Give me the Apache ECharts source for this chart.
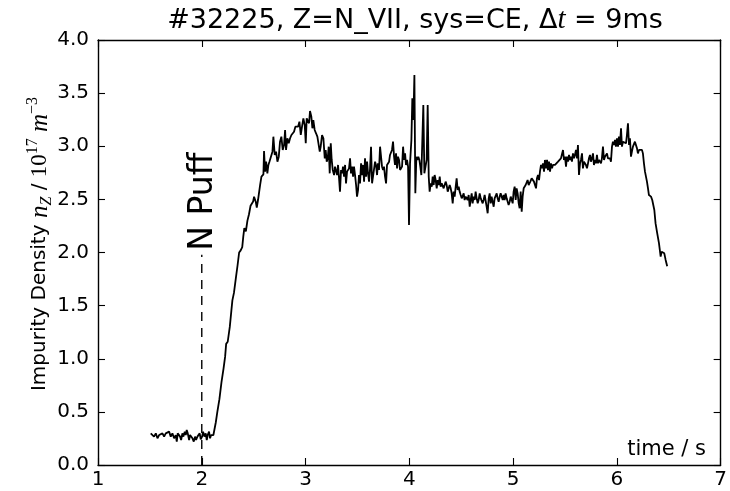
<!DOCTYPE html>
<html>
<head>
<meta charset="utf-8">
<script src="https://cdn.jsdelivr.net/npm/echarts@6/dist/echarts.min.js"></script>
<style>
  html, body { margin: 0; padding: 0; background: #fff; }
  #chart { width: 730px; height: 491px; }
</style>
</head>
<body>
<div id="chart"></div>
<script>
// Impurity density n_Z (1e17 m^-3) versus time (s), shot #32225, N VII, CE system.
// Each segment is a list of [time, density] samples.
const baseline = [
  [1.508,0.298],[1.524,0.282],[1.540,0.267],[1.557,0.298],[1.573,0.251],[1.589,0.282],[1.605,0.267],[1.621,0.298],
  [1.637,0.267],[1.653,0.298],[1.669,0.282],[1.685,0.314],[1.701,0.267],[1.717,0.298],[1.733,0.251],[1.749,0.282],
  [1.759,0.220],[1.768,0.298],[1.781,0.314],[1.791,0.267],[1.801,0.235],[1.813,0.298],[1.823,0.267],[1.836,0.314],
  [1.846,0.282],[1.855,0.330],[1.865,0.298],[1.878,0.235],[1.887,0.282],[1.897,0.298],[1.910,0.251],[1.923,0.220],
  [1.935,0.267],[1.945,0.235],[1.958,0.267],[1.971,0.251],[1.980,0.298],[1.990,0.242],[2.003,0.267],[2.013,0.314],
  [2.025,0.267],[2.038,0.298],[2.048,0.235],[2.057,0.282],[2.070,0.314],[2.080,0.251],[2.090,0.282],[2.102,0.298],
  [2.112,0.282],[2.122,0.300]
];

const rise = [
  [2.135,0.40],[2.150,0.50],[2.170,0.62],[2.190,0.78],[2.210,0.91],[2.225,1.02],[2.235,1.14],[2.250,1.16],
  [2.270,1.30],[2.285,1.45],[2.295,1.55],[2.310,1.62],[2.330,1.77],[2.345,1.88],[2.360,2.00],[2.375,2.02],
  [2.390,2.05],[2.400,2.15],[2.410,2.23],[2.425,2.20],[2.440,2.30],[2.455,2.36],[2.470,2.44],[2.485,2.45],
  [2.495,2.48]
];

const plateau = [
  [2.504,2.525],[2.520,2.478],[2.530,2.422],[2.542,2.494],[2.562,2.635],[2.575,2.714],[2.594,2.736],[2.600,2.955],
  [2.610,2.761],[2.620,2.855],[2.632,2.745],[2.642,2.824],[2.652,2.855],[2.664,2.871],[2.681,2.949],[2.690,3.090],
  [2.703,2.918],[2.716,2.949],[2.729,2.855],[2.742,2.902],[2.754,3.043],[2.767,3.090],[2.780,2.965],[2.793,3.012],
  [2.803,3.153],[2.812,2.965],[2.825,3.075],[2.838,3.028],[2.851,3.075],[2.864,3.106],[2.876,3.090],[2.889,3.137],
  [2.902,3.184],[2.915,3.169],[2.928,3.184],[2.941,3.231],[2.954,3.106],[2.966,3.184],[2.979,3.263],[2.992,3.200],
  [3.002,3.028],[3.011,3.263],[3.024,3.247],[3.034,3.216],[3.043,3.332],[3.056,3.278],[3.066,3.169],[3.075,3.247],
  [3.088,3.153],[3.101,3.122],[3.114,3.090],[3.127,3.075],[3.137,2.949],[3.146,2.996],[3.159,3.106],[3.172,3.075],
  [3.185,2.886],[3.194,2.965],[3.204,2.855],[3.214,2.886],[3.223,2.996],[3.233,2.745],[3.243,3.028],[3.252,2.871],
  [3.262,2.777],[3.275,2.729],[3.284,2.808],[3.294,2.792],[3.304,2.729],[3.313,2.824],[3.323,2.698],[3.332,2.573],
  [3.342,2.777],[3.352,2.745],[3.361,2.808],[3.371,2.714],[3.381,2.824],[3.390,2.651],[3.400,2.761],[3.410,2.745],
  [3.419,2.792],[3.429,2.886],[3.438,2.745],[3.448,2.808],[3.458,2.714],[3.467,2.808],[3.477,2.729],[3.487,2.635],
  [3.496,2.525],[3.506,2.588],[3.515,2.729],[3.525,2.651],[3.535,2.839],[3.544,2.729],[3.554,2.824],[3.564,2.667],
  [3.573,2.886],[3.583,2.714],[3.593,2.855],[3.602,2.745],[3.612,2.667],[3.621,2.777],[3.631,2.996],[3.641,2.651],
  [3.650,2.714],[3.660,2.729],[3.670,2.855],[3.679,2.824],[3.689,2.729],[3.698,2.839],[3.708,2.777],[3.718,2.996],
  [3.727,2.980],[3.737,2.808],[3.747,2.777],[3.756,2.808],[3.766,2.714],[3.776,2.651],[3.785,2.824],[3.795,2.824],
  [3.805,2.855],[3.814,2.918],[3.824,2.902],[3.833,2.965],[3.843,3.043],[3.853,2.902],[3.862,2.824],[3.872,2.933],
  [3.882,2.792],[3.891,2.902],[3.901,2.871],[3.911,2.777],[3.920,2.792],[3.930,2.808],[3.940,2.996],[3.949,2.871],
  [3.959,2.933],[3.968,2.824],[3.978,2.871],[3.988,2.808],[3.997,2.259]
];

const spikes = [
  [4.007,2.839],[4.020,3.059],[4.029,3.451],[4.039,3.247],[4.049,3.671],[4.058,2.557],[4.068,2.902],[4.077,2.871],
  [4.087,2.902],[4.097,2.871],[4.106,2.808],[4.116,2.729],[4.126,2.745],[4.135,3.388],[4.145,2.745],[4.154,2.729],
  [4.167,2.871],[4.177,3.388],[4.187,2.714]
];

const trough = [
  [4.196,2.573],[4.206,2.651],[4.216,2.620],[4.225,2.714],[4.235,2.635],[4.244,2.729],[4.254,2.682],[4.264,2.604],
  [4.273,2.682],[4.283,2.635],[4.293,2.714],[4.302,2.620],[4.312,2.651],[4.322,2.635],[4.331,2.604],[4.341,2.620],
  [4.350,2.667],[4.360,2.635],[4.370,2.573],[4.379,2.588],[4.389,2.635],[4.399,2.604],[4.408,2.557],[4.418,2.463],
  [4.427,2.573],[4.437,2.526],[4.447,2.620],[4.456,2.698],[4.466,2.588],[4.476,2.620],[4.485,2.573],[4.495,2.541],
  [4.505,2.510],[4.514,2.526],[4.524,2.557],[4.533,2.494],[4.543,2.526],[4.553,2.510],[4.562,2.494],[4.572,2.541],
  [4.582,2.431],[4.591,2.494],[4.601,2.557],[4.610,2.463],[4.620,2.526],[4.630,2.494],[4.639,2.573],[4.649,2.510],
  [4.659,2.463],[4.668,2.494],[4.678,2.557],[4.688,2.510],[4.697,2.526],[4.707,2.463],[4.716,2.494],[4.726,2.541],
  [4.736,2.526],[4.745,2.431],[4.755,2.369],[4.765,2.510],[4.774,2.557],[4.784,2.463],[4.793,2.526],[4.803,2.478],
  [4.813,2.431],[4.822,2.510],[4.832,2.494],[4.842,2.557],[4.851,2.510],[4.861,2.478],[4.871,2.526],[4.880,2.557],
  [4.890,2.573],[4.900,2.494],[4.909,2.541],[4.919,2.494],[4.928,2.557],[4.938,2.510],[4.948,2.494],[4.957,2.447],
  [4.967,2.478],[4.977,2.526],[4.986,2.510],[4.996,2.463],[5.005,2.573],[5.015,2.620],[5.025,2.494],[5.034,2.604],
  [5.044,2.557],[5.054,2.463],[5.063,2.416],[5.073,2.573],[5.083,2.384],[5.092,2.526],[5.102,2.604],[5.111,2.604],
  [5.121,2.635],[5.131,2.651],[5.140,2.682],[5.150,2.635]
];

const ramp = [
  [5.166,2.667],[5.179,2.698],[5.192,2.714],[5.201,2.667],[5.211,2.635],[5.221,2.604],[5.230,2.698],[5.240,2.729],
  [5.250,2.682],[5.259,2.761],[5.269,2.824],[5.278,2.792],[5.288,2.839],[5.298,2.761],[5.307,2.871],[5.317,2.792],
  [5.327,2.871],[5.336,2.776],[5.346,2.855],[5.356,2.761],[5.365,2.839],[5.375,2.792],[5.384,2.824],[5.394,2.839],
  [5.404,2.824],[5.413,2.839],[5.423,2.808],[5.433,2.855],[5.442,2.839],[5.452,2.871],[5.461,2.886],[5.471,2.871],
  [5.481,2.965],[5.490,2.871],[5.500,2.902],[5.510,2.808],[5.519,2.902],[5.529,2.855],[5.539,2.918],[5.548,2.871],
  [5.558,2.902],[5.567,2.855],[5.577,2.933],[5.587,2.886],[5.596,2.918],[5.606,2.965],[5.616,2.886],[5.625,3.012],
  [5.635,2.729],[5.645,2.839],[5.654,2.871],[5.664,2.933],[5.673,2.792],[5.683,2.855],[5.693,2.871],[5.702,2.824],
  [5.712,2.792],[5.722,2.839],[5.731,2.886],[5.741,2.918],[5.750,2.855],[5.760,2.886],[5.770,2.933],[5.779,2.824],
  [5.789,2.871],[5.799,2.839],[5.808,2.918],[5.818,2.839],[5.828,2.871],[5.837,2.855],[5.847,2.839],[5.856,2.886],
  [5.866,2.996],[5.876,2.871],[5.885,2.902],[5.895,2.886],[5.905,2.933],[5.914,2.886],[5.924,2.902],[5.934,2.886],
  [5.943,2.855],[5.953,2.996],[5.962,3.043],[5.972,3.012],[5.982,3.059],[5.991,2.996],[6.001,3.075],[6.011,2.996],
  [6.020,3.090],[6.030,3.012],[6.040,3.169],[6.049,2.996],[6.059,3.043],[6.068,3.028],[6.078,3.059],[6.088,3.028],
  [6.097,3.106],[6.107,3.216],[6.117,3.012],[6.126,3.075],[6.136,2.902],[6.145,2.949],[6.155,2.996],[6.165,3.012],
  [6.174,3.043],[6.184,3.028],[6.194,2.980],[6.203,2.933],[6.213,2.965],[6.223,2.980],[6.232,2.949],[6.242,2.965],
  [6.251,2.933]
];

const decay = [
  [6.261,2.839],[6.271,2.761],[6.280,2.745],[6.290,2.667],[6.300,2.604],[6.309,2.541],[6.319,2.541],[6.329,2.526],
  [6.341,2.494],[6.351,2.447],[6.361,2.400],[6.373,2.274],[6.389,2.180],[6.406,2.086],[6.422,1.961],[6.431,2.008],
  [6.444,2.024],[6.457,1.992],[6.470,1.930],[6.485,1.870]
];

// Nitrogen puff: valve time and the height the dashed guide reaches
const puffTime = 2.0;
const puffTop = 1.98;
const puffLabel = 'N Puff';

const xTicks = [1, 2, 3, 4, 5, 6, 7];
const yTicks = [0.0, 0.5, 1.0, 1.5, 2.0, 2.5, 3.0, 3.5, 4.0];

const lineData = [].concat(baseline, rise, plateau, spikes, trough, ramp, decay);

const font = '"DejaVu Sans", "Liberation Sans", sans-serif';
const mathFont = '"Liberation Serif", "DejaVu Serif", serif';

const chart = echarts.init(document.getElementById('chart'), null, { renderer: 'canvas' });

const axisBase = {
  type: 'value',
  axisLine: { show: true, onZero: false, lineStyle: { color: '#000', width: 1.4 } },
  axisTick: { show: true, inside: true, length: 7, lineStyle: { color: '#000', width: 1.1 } },
  splitLine: { show: false }
};

chart.setOption({
  animation: false,
  backgroundColor: '#fff',
  title: {
    text: '{a|#32225, Z=N_VII, sys=CE, Δ}{i|t}{a| = 9ms}',
    left: 410,
    textAlign: 'center',
    top: 1,
    textStyle: {
      fontWeight: 'normal',
      rich: {
        a: { fontFamily: font, fontSize: 27, fontWeight: 'normal', color: '#000' },
        i: { fontFamily: mathFont, fontStyle: 'italic', fontSize: 29, fontWeight: 'normal', color: '#000' }
      }
    }
  },
  grid: { left: 98, right: 8, top: 40, bottom: 26, containLabel: false },
  xAxis: [
    Object.assign({}, axisBase, {
      min: xTicks[0], max: xTicks[xTicks.length - 1], interval: 1,
      position: 'bottom',
      axisLabel: { color: '#000', fontFamily: font, fontSize: 20, margin: 5, showMinLabel: true, showMaxLabel: true }
    }),
    Object.assign({}, axisBase, {
      min: xTicks[0], max: xTicks[xTicks.length - 1], interval: 1,
      position: 'top',
      axisLabel: { show: false }
    })
  ],
  yAxis: [
    Object.assign({}, axisBase, {
      min: yTicks[0], max: yTicks[yTicks.length - 1], interval: 0.5,
      position: 'left',
      axisLabel: { color: '#000', fontFamily: font, fontSize: 20, margin: 9, formatter: v => v.toFixed(1) }
    }),
    Object.assign({}, axisBase, {
      min: yTicks[0], max: yTicks[yTicks.length - 1], interval: 0.5,
      position: 'right',
      axisLabel: { show: false }
    })
  ],
  series: [
    {
      type: 'line',
      data: lineData,
      showSymbol: false,
      symbol: 'none',
      lineStyle: { color: '#000', width: 1.8 },
      z: 3
    },
    {
      type: 'line',
      data: [[puffTime, 0], [puffTime, puffTop]],
      showSymbol: false,
      symbol: 'none',
      lineStyle: { color: '#000', width: 1.4, type: [9, 7] },
      z: 2
    }
  ]
});

// Puff annotation anchored at the top of the dashed guide
const anchor = chart.convertToPixel({ xAxisIndex: 0, yAxisIndex: 0 }, [puffTime, puffTop]);

chart.setOption({
  graphic: [
    {
      type: 'text',
      x: anchor[0] + 2,
      y: anchor[1] - 4,
      rotation: Math.PI / 2,
      style: {
        text: puffLabel,
        align: 'left',
        verticalAlign: 'middle',
        fill: '#000',
        font: '33px ' + font
      }
    },
    {
      type: 'text',
      right: 24,
      top: 439,
      style: { text: 'time / s', fill: '#000', font: '21px ' + font }
    },
    {
      type: 'text',
      x: 40,
      y: 244,
      rotation: Math.PI / 2,
      style: {
        text: '{a|Impurity Density }{i|n}{sub|Z}{a| / }{m|10}{sup|17}{i| m}{sup|−3}',
        align: 'center',
        verticalAlign: 'middle',
        rich: {
          a: { fontFamily: font, fontSize: 20, fill: '#000', lineHeight: 30, verticalAlign: 'middle' },
          i: { fontFamily: mathFont, fontStyle: 'italic', fontSize: 25, fill: '#000', lineHeight: 30, verticalAlign: 'middle' },
          m: { fontFamily: mathFont, fontSize: 23, fill: '#000', lineHeight: 30, verticalAlign: 'middle' },
          sub: { fontFamily: mathFont, fontStyle: 'italic', fontSize: 16, fill: '#000', lineHeight: 12, verticalAlign: 'bottom' },
          sup: { fontFamily: mathFont, fontSize: 16, fill: '#000', lineHeight: 12, verticalAlign: 'top' }
        }
      }
    }
  ]
});
</script>
</body>
</html>
